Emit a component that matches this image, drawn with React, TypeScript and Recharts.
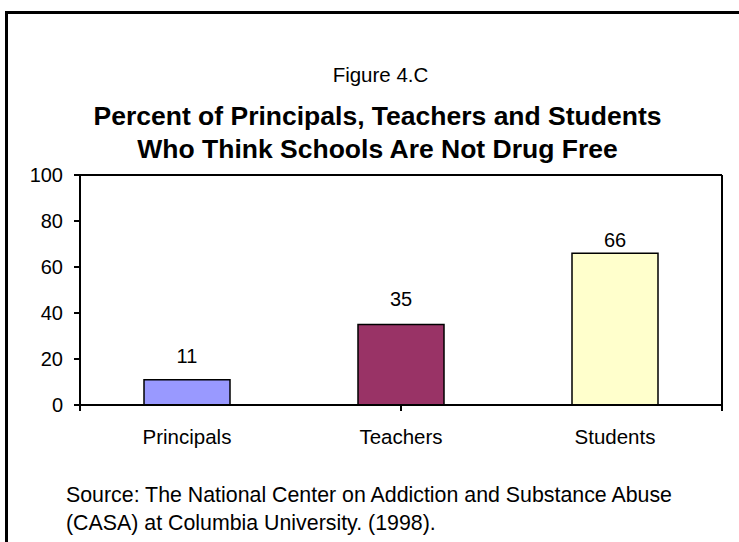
import React from 'react';
import {
    BarChart,
    Bar,
    Cell,
    XAxis,
    YAxis,
    LabelList
} from 'recharts';

/* ============================
   Data
============================ */

const groups = ['Principals', 'Teachers', 'Students'];
const percents = [11, 35, 66];
const barColors = ['#9999FF', '#993366', '#FFFFCC'];
const yTicks = [0, 20, 40, 60, 80, 100];
const edgeTicks = [0, 1, 2, 3];

// the original places value labels at uneven heights above the bars
const labelGaps = [17, 19, 6];

const data = groups.map((name, i) => ({ name, value: percents[i] }));

const FONT = '"Liberation Sans", Arial, sans-serif';

const renderValue = (props: any) => {
    const { x, y, width, value, index } = props;
    return (
        <text
            x={Number(x) + Number(width) / 2}
            y={Number(y) - labelGaps[index]}
            textAnchor="middle"
            fill="#000"
            fontSize={20}
            fontFamily={FONT}
        >
            {value}
        </text>
    );
};

const NoLabel = () => <g />;

/* ============================
   Component
============================ */

const App: React.FC = () => {
    return (
        <div
            style={{
                position: 'absolute',
                left: 0,
                top: 0,
                width: 739,
                height: 542,
                overflow: 'hidden',
                background: '#fff',
                fontFamily: FONT,
                color: '#000'
            }}
        >
            {/* outer frame, runs off the right and bottom edges */}
            <div
                style={{
                    position: 'absolute',
                    left: 5,
                    top: 11,
                    width: 800,
                    height: 600,
                    border: '3px solid #000'
                }}
            />

            <div style={{ position: 'absolute', top: 63, left: 0, width: 761, textAlign: 'center', fontSize: 20.5 }}>
                Figure 4.C
            </div>
            <div
                style={{
                    position: 'absolute',
                    top: 100,
                    left: 0,
                    width: 755,
                    textAlign: 'center',
                    fontSize: 26.5,
                    fontWeight: 'bold',
                    lineHeight: '33px'
                }}
            >
                Percent of Principals, Teachers and Students
                <br />
                Who Think Schools Are Not Drug Free
            </div>

            <div style={{ position: 'absolute', left: 0, top: 0 }}>
                <BarChart
                    width={739}
                    height={542}
                    data={data}
                    margin={{ top: 174, right: 16, bottom: 96, left: 20 }}
                >
                    <XAxis
                        type="number"
                        domain={[0, 3]}
                        allowDataOverflow
                        ticks={edgeTicks}
                        tick={<NoLabel />}
                        height={1}
                        axisLine={{ stroke: '#000', strokeWidth: 2 }}
                        tickLine={{ stroke: '#000', strokeWidth: 2 }}
                        tickSize={6}
                    />
                    <XAxis
                        xAxisId="cat"
                        dataKey="name"
                        axisLine={false}
                        tickLine={false}
                        height={40}
                        tickMargin={17}
                        tick={{ fill: '#000', fontSize: 20.5, fontFamily: FONT }}
                    />
                    <XAxis
                        xAxisId="top"
                        orientation="top"
                        type="number"
                        domain={[0, 1]}
                        allowDataOverflow
                        tick={false}
                        tickLine={false}
                        height={1}
                        axisLine={{ stroke: '#000', strokeWidth: 2 }}
                    />
                    <YAxis
                        domain={[0, 100]}
                        ticks={yTicks}
                        width={60}
                        tickSize={6}
                        tickMargin={11}
                        axisLine={{ stroke: '#000', strokeWidth: 2 }}
                        tickLine={{ stroke: '#000', strokeWidth: 2 }}
                        tick={{ fill: '#000', fontSize: 20, fontFamily: FONT }}
                    />
                    <YAxis
                        yAxisId="right"
                        orientation="right"
                        domain={[0, 1]}
                        allowDataOverflow
                        tick={false}
                        tickLine={false}
                        width={1}
                        axisLine={{ stroke: '#000', strokeWidth: 2 }}
                    />
                    <Bar
                        xAxisId="cat"
                        dataKey="value"
                        barSize={86}
                        stroke="#000"
                        strokeWidth={1.5}
                        isAnimationActive={false}
                    >
                        {data.map((entry, index) => (
                            <Cell key={entry.name} fill={barColors[index]} />
                        ))}
                        <LabelList dataKey="value" content={renderValue} />
                    </Bar>
                </BarChart>
            </div>

            <div style={{ position: 'absolute', left: 66, top: 481, fontSize: 21.35, lineHeight: '28px' }}>
                Source: The National Center on Addiction and Substance Abuse
                <br />
                (CASA) at Columbia University. (1998).
            </div>
        </div>
    );
};

export default App;
